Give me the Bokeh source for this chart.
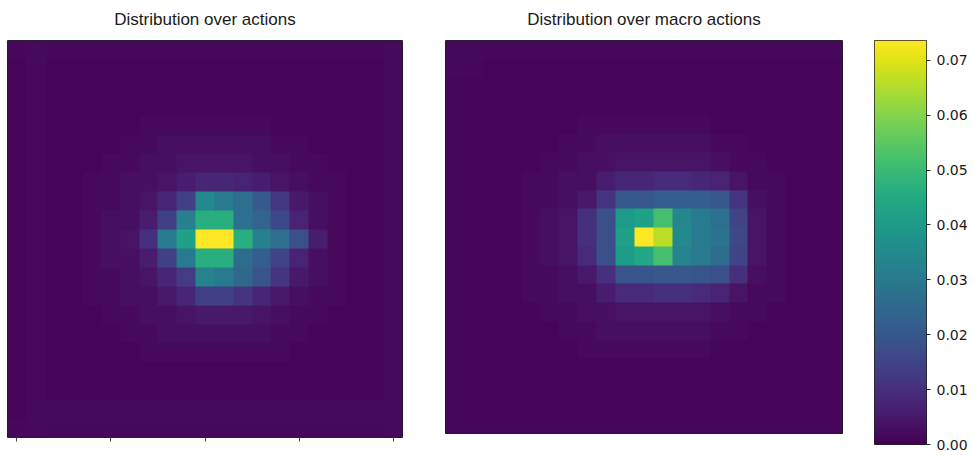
import numpy as np
from bokeh.plotting import figure
from bokeh.layouts import row
from bokeh.models import (LinearColorMapper, FixedTicker, Range1d,
                          PrintfTickFormatter, LinearAxis)
from bokeh.palettes import Viridis256
from bokeh.embed import file_html
from bokeh.resources import INLINE

titles = ["Distribution over actions", "Distribution over macro actions"]
x_ticks = [0, 5, 10, 15, 20]
cbar_ticks = [0.00, 0.01, 0.02, 0.03, 0.04, 0.05, 0.06, 0.07]
vmax = 0.0736

# rows listed top to bottom, 21 x 21 cells
actions = [
    [.0015, .002, .0015, .0015, .0015, .0015, .0015, .0015, .0015, .0015, .0015, .0015, .0015, .0015, .0015, .0015, .0015, .0015, .0015, .0015, .002],
    [.001, .002, .001, .001, .001, .001, .001, .001, .001, .001, .001, .001, .001, .001, .001, .001, .001, .001, .001, .001, .002],
    [.001, .002, .001, .001, .001, .001, .001, .001, .001, .001, .001, .001, .001, .001, .001, .001, .001, .001, .001, .001, .002],
    [.001, .002, .001, .001, .001, .001, .001, .001, .001, .001, .001, .001, .001, .001, .001, .001, .001, .001, .001, .001, .002],
    [.001, .002, .001, .001, .001, .001, .001, .002, .002, .002, .002, .002, .002, .002, .001, .001, .001, .001, .001, .001, .002],
    [.001, .002, .001, .001, .001, .001, .002, .002, .003, .003, .003, .003, .003, .003, .002, .002, .001, .001, .001, .001, .002],
    [.001, .002, .001, .001, .001, .002, .002, .003, .003, .004, .004, .004, .004, .003, .003, .002, .002, .001, .001, .001, .002],
    [.001, .002, .001, .001, .002, .002, .003, .003, .004, .006, .008, .008, .007, .006, .004, .003, .002, .002, .001, .001, .002],
    [.001, .002, .001, .001, .002, .002, .003, .004, .008, .014, .035, .030, .027, .021, .012, .005, .003, .002, .001, .001, .002],
    [.001, .002, .001, .001, .002, .003, .003, .006, .014, .032, .046, .046, .027, .024, .016, .007, .003, .002, .001, .001, .002],
    [.001, .002, .001, .001, .002, .003, .004, .010, .030, .042, .0736, .0736, .046, .032, .027, .018, .006, .002, .001, .001, .002],
    [.001, .002, .001, .001, .002, .003, .003, .006, .014, .030, .046, .046, .026, .022, .015, .007, .003, .002, .001, .001, .002],
    [.001, .002, .001, .001, .002, .002, .003, .004, .008, .013, .033, .030, .025, .019, .011, .005, .003, .002, .001, .001, .002],
    [.001, .002, .001, .001, .002, .002, .003, .003, .005, .008, .014, .014, .011, .008, .005, .003, .002, .002, .001, .001, .002],
    [.001, .002, .001, .001, .001, .002, .002, .003, .003, .004, .005, .005, .005, .004, .003, .002, .002, .001, .001, .001, .002],
    [.001, .002, .001, .001, .001, .001, .002, .002, .003, .003, .003, .003, .003, .003, .002, .002, .001, .001, .001, .001, .002],
    [.001, .002, .001, .001, .001, .001, .001, .002, .002, .002, .002, .002, .002, .002, .002, .001, .001, .001, .001, .001, .002],
    [.001, .002, .001, .001, .001, .001, .001, .001, .001, .001, .001, .001, .001, .001, .001, .001, .001, .001, .001, .001, .002],
    [.001, .002, .001, .001, .001, .001, .001, .001, .001, .001, .001, .001, .001, .001, .001, .001, .001, .001, .001, .001, .002],
    [.001, .002, .002, .002, .002, .002, .002, .002, .002, .002, .002, .002, .002, .002, .002, .002, .002, .002, .002, .002, .002],
    [.0015, .002, .0015, .0015, .0015, .0015, .0015, .0015, .0015, .0015, .0015, .0015, .0015, .0015, .0015, .0015, .0015, .0015, .0015, .0015, .002],
]

macro_actions = [
    [.0015, .0015, .0015, .0015, .0015, .0015, .0015, .0015, .0015, .0015, .0015, .0015, .0015, .0015, .0015, .0015, .0015, .0015, .0015, .0015, .0015],
    [.0015, .0015, .001, .001, .001, .001, .001, .001, .001, .001, .001, .001, .001, .001, .001, .001, .001, .001, .001, .001, .001],
    [.001, .001, .001, .001, .001, .001, .001, .001, .001, .001, .001, .001, .001, .001, .001, .001, .001, .001, .001, .001, .001],
    [.001, .001, .001, .001, .001, .001, .001, .001, .001, .001, .001, .001, .001, .001, .001, .001, .001, .001, .001, .001, .001],
    [.001, .001, .001, .001, .001, .001, .001, .002, .002, .002, .002, .002, .002, .002, .001, .001, .001, .001, .001, .001, .001],
    [.001, .001, .001, .001, .001, .001, .002, .002, .003, .003, .003, .003, .003, .003, .002, .002, .001, .001, .001, .001, .001],
    [.001, .001, .001, .001, .001, .002, .002, .003, .003, .004, .004, .004, .004, .004, .003, .002, .002, .001, .001, .001, .001],
    [.001, .001, .001, .001, .002, .002, .003, .003, .006, .008, .008, .009, .009, .008, .007, .004, .002, .002, .001, .001, .001],
    [.001, .001, .001, .001, .002, .002, .003, .005, .011, .020, .020, .022, .022, .022, .020, .011, .003, .002, .001, .001, .001],
    [.001, .001, .001, .001, .002, .003, .004, .010, .018, .040, .042, .052, .034, .030, .027, .015, .004, .002, .001, .001, .001],
    [.001, .001, .001, .001, .002, .003, .004, .010, .018, .042, .0736, .066, .035, .030, .028, .016, .004, .002, .001, .001, .001],
    [.001, .001, .001, .001, .002, .003, .004, .009, .018, .040, .044, .052, .033, .030, .026, .015, .004, .002, .001, .001, .001],
    [.001, .001, .001, .001, .002, .002, .003, .005, .010, .019, .019, .020, .020, .019, .018, .010, .003, .002, .001, .001, .001],
    [.001, .001, .001, .001, .002, .002, .003, .003, .006, .009, .009, .010, .010, .009, .007, .004, .002, .002, .001, .001, .001],
    [.001, .001, .001, .001, .001, .002, .002, .003, .003, .004, .004, .004, .004, .004, .003, .002, .002, .001, .001, .001, .001],
    [.001, .001, .001, .001, .001, .001, .002, .002, .003, .003, .003, .003, .003, .003, .002, .002, .001, .001, .001, .001, .001],
    [.001, .001, .001, .001, .001, .001, .001, .002, .002, .002, .002, .002, .002, .002, .001, .001, .001, .001, .001, .001, .001],
    [.001, .001, .001, .001, .001, .001, .001, .001, .001, .001, .001, .001, .001, .001, .001, .001, .001, .001, .001, .001, .001],
    [.001, .001, .001, .001, .001, .001, .001, .001, .001, .001, .001, .001, .001, .001, .001, .001, .001, .001, .001, .001, .001],
    [.001, .001, .001, .001, .001, .001, .001, .001, .001, .001, .001, .001, .001, .001, .001, .001, .001, .001, .001, .001, .001],
    [.001, .001, .001, .001, .001, .001, .001, .001, .001, .001, .001, .001, .001, .001, .001, .001, .001, .001, .001, .001, .001],
]

mapper = LinearColorMapper(palette=Viridis256, low=0.0, high=vmax)


def panel(grid, title, left, fw, right, fh, bottom):
    n = len(grid)
    p = figure(frame_width=fw, frame_height=fh, output_backend="svg",
               toolbar_location=None, x_axis_location=None, y_axis_location=None,
               x_range=Range1d(-0.5, n - 0.5), y_range=Range1d(-0.5, n - 0.5),
               min_border_left=left, min_border_right=right, min_border_top=40,
               min_border_bottom=bottom, title=title)
    p.xgrid.visible = False
    p.ygrid.visible = False
    p.image(image=[np.flipud(np.array(grid, dtype=float))], x=-0.5, y=-0.5,
            dw=n, dh=n, color_mapper=mapper)
    p.outline_line_color = "#222222"
    p.outline_line_width = 1
    p.title.align = "center"
    p.title.vertical_align = "top"
    p.title.text_font = "Liberation Sans"
    p.title.text_font_style = "normal"
    p.title.text_font_size = "17px"
    p.title.text_color = "#1a1a1a"
    p.title.standoff = 19
    p.background_fill_color = "white"
    p.border_fill_color = "white"
    return p


p1 = panel(actions, titles[0], 7, 395, 43, 397, 16)
ax = LinearAxis(ticker=FixedTicker(ticks=x_ticks), major_tick_out=4, major_tick_in=0,
                minor_tick_line_color=None, axis_line_color=None,
                major_label_text_font_size="1px", major_label_text_color=None,
                major_label_standoff=0, major_tick_line_color="#444444")
p1.add_layout(ax, "below")

p2 = panel(macro_actions, titles[1], 0, 397, 32, 393, 20)

# colour bar: frame is the bar, scale on the right
p3 = figure(frame_width=52, frame_height=404, output_backend="svg",
            toolbar_location=None, x_axis_location=None, y_axis_location=None,
            x_range=Range1d(0, 1), y_range=Range1d(0, vmax),
            min_border_left=0, min_border_right=46, min_border_top=35,
            min_border_bottom=14)
p3.xgrid.visible = False
p3.ygrid.visible = False
p3.image(image=[np.linspace(0, vmax, 256).reshape(256, 1)], x=0, y=0, dw=1, dh=vmax,
         color_mapper=mapper)
p3.outline_line_color = "#222222"
p3.outline_line_width = 1
cax = LinearAxis(ticker=FixedTicker(ticks=cbar_ticks),
                 formatter=PrintfTickFormatter(format="%.2f"),
                 major_tick_out=4, major_tick_in=0, minor_tick_line_color=None,
                 axis_line_color=None, major_tick_line_color="#222222",
                 major_label_text_font="DejaVu Sans", major_label_text_font_size="14px",
                 major_label_text_color="#1a1a1a", major_label_standoff=6)
p3.add_layout(cax, "right")

layout = row(p1, p2, p3)
open("out.html", "w").write(file_html(layout, INLINE))
